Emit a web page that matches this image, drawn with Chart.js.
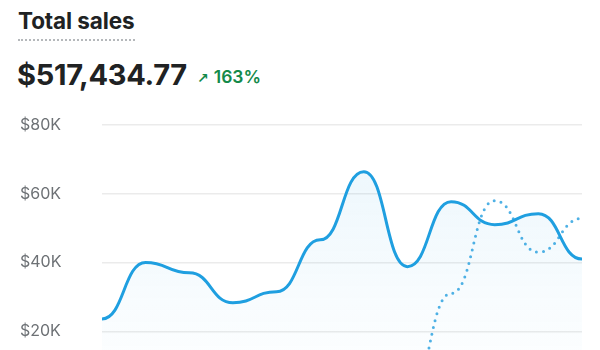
<!DOCTYPE html>
<html>
<head>
<meta charset="utf-8">
<script src="https://cdn.jsdelivr.net/npm/chart.js@4"></script>
<style>
  html, body { margin: 0; padding: 0; background: #fff; overflow: hidden; }
  body { width: 600px; height: 350px; position: relative; font-family: Inter, "Open Sans", sans-serif; color: #202223; }
  .title { position: absolute; left: 18px; top: 7px; font-size: 22.5px; font-weight: 700; letter-spacing: -0.1px;
           padding-bottom: 4px; border-bottom: 2px dotted #b5b8bb; line-height: 28px; }
  .total { position: absolute; left: 17px; top: 58px; font-size: 29px; font-weight: 700; letter-spacing: -0.3px; line-height: 34px; }
  .delta { position: absolute; left: 197px; top: 66px; font-size: 17.5px; font-weight: 600; color: #148a4a; line-height: 22px; }
  .delta .arr { font-family: "DejaVu Sans", sans-serif; font-size: 14px; font-weight: 700; margin-right: 5px; }
  canvas { position: absolute; left: 0; top: 105px; }
</style>
</head>
<body>
<div class="title">Total sales</div>
<div class="total">$517,434.77</div>
<div class="delta"><span class="arr">↗</span>163%</div>
<canvas id="sales" width="600" height="315"></canvas>
<script>
var periods = ['Jan', 'Feb', 'Mar', 'Apr', 'May', 'Jun', 'Jul', 'Aug', 'Sep', 'Oct', 'Nov', 'Dec'];
var current = [23600, 40000, 37000, 28300, 31500, 46600, 66400, 38800, 57700, 51000, 54200, 41000];
var previous = [0, 0, 0, 0, 0, 0, 0, 0, 31000, 58000, 43000, 52800];
var yTicks = [0, 20000, 40000, 60000, 80000];

var ctx = document.getElementById('sales');

function fillGradient(c) {
  var area = c.chart.chartArea;
  if (!area) return 'rgba(30,159,224,0.05)';
  var g = c.chart.ctx.createLinearGradient(0, area.top, 0, area.bottom);
  g.addColorStop(0, 'rgba(30,159,224,0.09)');
  g.addColorStop(1, 'rgba(30,159,224,0.0)');
  return g;
}

// flat tangents at each point (bump curve): control points sit halfway to the neighbours
var bumpCurve = {
  id: 'bumpCurve',
  afterUpdate: function (chart) {
    chart.data.datasets.forEach(function (ds, i) {
      var line = chart.getDatasetMeta(i).dataset;
      if (!line) return;
      line.updateControlPoints(chart.chartArea);
      var pts = line.points;
      for (var k = 0; k < pts.length; k++) {
        var p = pts[k], prev = pts[k - 1], next = pts[k + 1];
        p.cp1x = prev ? (prev.x + p.x) / 2 : p.x;
        p.cp1y = p.y;
        p.cp2x = next ? (next.x + p.x) / 2 : p.x;
        p.cp2y = p.y;
      }
    });
  }
};

var chart = new Chart(ctx, {
  type: 'line',
  data: {
    labels: periods,
    datasets: [{
      label: 'Current',
      data: current,
      borderColor: '#1f9fe0',
      borderWidth: 3,
      backgroundColor: fillGradient,
      fill: 'origin',
      tension: 0.4,
      pointRadius: 0
    }, {
      label: 'Previous',
      data: previous,
      borderColor: '#4fb1e5',
      borderWidth: 3,
      borderDash: [0, 7],
      borderCapStyle: 'round',
      fill: false,
      tension: 0.4,
      pointRadius: 0
    }]
  },
  options: {
    responsive: false,
    animation: false,
    layout: { padding: { left: 20, right: 18, top: 20, bottom: 20 } },
    plugins: { legend: { display: false }, tooltip: { enabled: false } },
    scales: {
      x: { display: false, offset: false },
      y: {
        min: 0,
        max: 80000,
        afterBuildTicks: function (axis) { axis.ticks = yTicks.map(function (v) { return { value: v }; }); },
        afterFit: function (axis) { axis.width = 82; },
        border: { display: false },
        grid: { color: '#ebebeb', lineWidth: 1.5, drawTicks: false },
        ticks: {
          padding: 0,
          crossAlign: 'far',
          color: '#6d7175',
          font: { family: 'Inter', size: 16 },
          callback: function (v) { return '$' + (v / 1000) + 'K'; }
        }
      }
    }
  },
  plugins: [bumpCurve]
});
</script>
</body>
</html>
